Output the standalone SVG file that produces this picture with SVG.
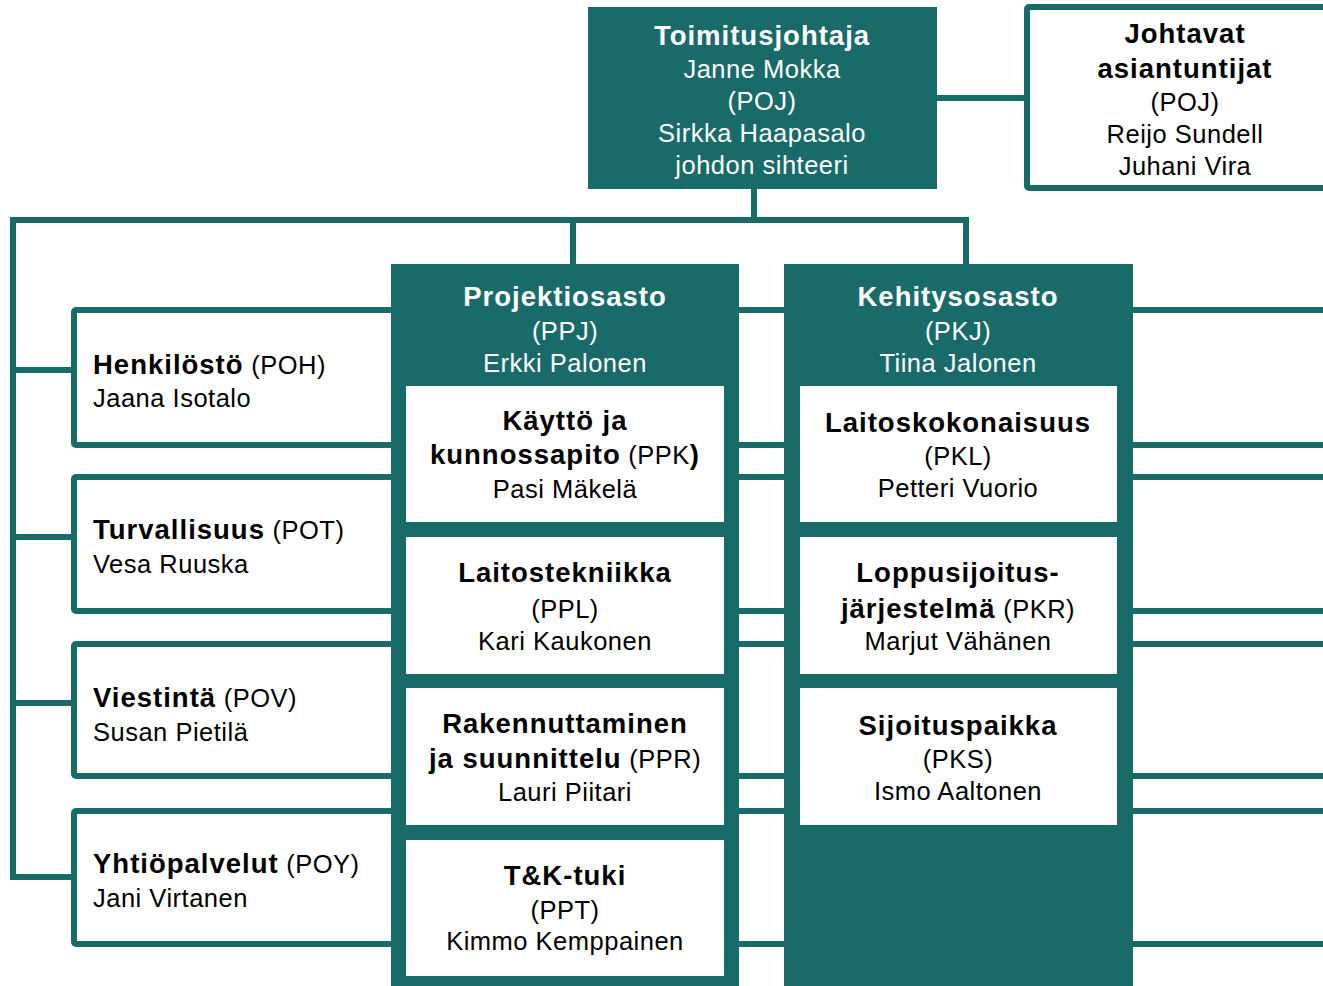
<svg xmlns="http://www.w3.org/2000/svg" width="1323" height="986" viewBox="0 0 1323 986">
<style>
.t{font-family:"Liberation Sans",Arial,sans-serif;font-size:25.5px;letter-spacing:0.5px}
.b{font-weight:bold;font-size:27.5px;letter-spacing:1px}
.w{fill:#ffffff}
.k{fill:#000000}
.m{text-anchor:middle}
.ob{fill:#ffffff;stroke:#196b6a;stroke-width:6}
.col{fill:#196b6a}
.ib{fill:#ffffff}
.c{fill:none;stroke:#196b6a;stroke-width:6;stroke-linecap:square}
</style>
<rect width="1323" height="986" fill="#ffffff"/>
<g id="connectors">
<path class="c" d="M754 189V220M13 220H966M13 220V877H72M13 370H72M13 537H72M13 703H72M573 220V264M966 220V264M937 98H1025"/>
</g>
<g id="toimitusjohtaja">
<rect x="588" y="7" width="349" height="182" class="col"/>
<text class="t w m" x="762" y="45"><tspan class="b">Toimitusjohtaja</tspan></text>
<text class="t w m" x="762" y="78">Janne Mokka</text>
<text class="t w m" x="762" y="110">(POJ)</text>
<text class="t w m" x="762" y="142">Sirkka Haapasalo</text>
<text class="t w m" x="762" y="174">johdon sihteeri</text>
</g>
<g id="johtavat">
<rect x="1027" y="7" width="320" height="181" rx="2" class="ob"/>
<text class="t k m" x="1185" y="43"><tspan class="b">Johtavat</tspan></text>
<text class="t k m" x="1185" y="78"><tspan class="b">asiantuntijat</tspan></text>
<text class="t k m" x="1185" y="111">(POJ)</text>
<text class="t k m" x="1185" y="143">Reijo Sundell</text>
<text class="t k m" x="1185" y="175">Juhani Vira</text>
</g>
<g id="henkilosto">
<rect x="74" y="310" width="1280" height="135" rx="2" class="ob"/>
<text class="t k" x="93" y="374"><tspan class="b">Henkilöstö</tspan> (POH)</text>
<text class="t k" x="93" y="407">Jaana Isotalo</text>
</g>
<g id="turvallisuus">
<rect x="74" y="477" width="1280" height="134" rx="2" class="ob"/>
<text class="t k" x="93" y="539"><tspan class="b">Turvallisuus</tspan> (POT)</text>
<text class="t k" x="93" y="573">Vesa Ruuska</text>
</g>
<g id="viestinta">
<rect x="74" y="644" width="1280" height="132" rx="2" class="ob"/>
<text class="t k" x="93" y="707"><tspan class="b">Viestintä</tspan> (POV)</text>
<text class="t k" x="93" y="741">Susan Pietilä</text>
</g>
<g id="yhtiopalvelut">
<rect x="74" y="811" width="1280" height="133" rx="2" class="ob"/>
<text class="t k" x="93" y="873"><tspan class="b">Yhtiöpalvelut</tspan> (POY)</text>
<text class="t k" x="93" y="907">Jani Virtanen</text>
</g>
<g id="projektiosasto">
<rect x="391" y="264" width="348" height="722" class="col"/>
<text class="t w m" x="565" y="306"><tspan class="b">Projektiosasto</tspan></text>
<text class="t w m" x="565" y="340">(PPJ)</text>
<text class="t w m" x="565" y="372">Erkki Palonen</text>
</g>
<g id="kaytto">
<rect x="406" y="386" width="318" height="136" class="ib"/>
<text class="t k m" x="565" y="430"><tspan class="b">Käyttö ja</tspan></text>
<text class="t k m" x="565" y="464"><tspan class="b">kunnossapito</tspan> (PPK<tspan class="b">)</tspan></text>
<text class="t k m" x="565" y="498">Pasi Mäkelä</text>
</g>
<g id="laitostekniikka">
<rect x="406" y="537" width="318" height="137" class="ib"/>
<text class="t k m" x="565" y="582"><tspan class="b">Laitostekniikka</tspan></text>
<text class="t k m" x="565" y="618">(PPL)</text>
<text class="t k m" x="565" y="650">Kari Kaukonen</text>
</g>
<g id="rakennuttaminen">
<rect x="406" y="688" width="318" height="137" class="ib"/>
<text class="t k m" x="565" y="733"><tspan class="b">Rakennuttaminen</tspan></text>
<text class="t k m" x="565" y="768"><tspan class="b">ja suunnittelu</tspan> (PPR)</text>
<text class="t k m" x="565" y="801">Lauri Piitari</text>
</g>
<g id="tktuki">
<rect x="406" y="840" width="318" height="136" class="ib"/>
<text class="t k m" x="565" y="885"><tspan class="b">T&amp;K-tuki</tspan></text>
<text class="t k m" x="565" y="919">(PPT)</text>
<text class="t k m" x="565" y="950">Kimmo Kemppainen</text>
</g>
<g id="kehitysosasto">
<rect x="784" y="264" width="349" height="722" class="col"/>
<text class="t w m" x="958" y="306"><tspan class="b">Kehitysosasto</tspan></text>
<text class="t w m" x="958" y="340">(PKJ)</text>
<text class="t w m" x="958" y="372">Tiina Jalonen</text>
</g>
<g id="laitoskokonaisuus">
<rect x="800" y="386" width="317" height="136" class="ib"/>
<text class="t k m" x="958" y="432"><tspan class="b">Laitoskokonaisuus</tspan></text>
<text class="t k m" x="958" y="465">(PKL)</text>
<text class="t k m" x="958" y="497">Petteri Vuorio</text>
</g>
<g id="loppusijoitus">
<rect x="800" y="537" width="317" height="137" class="ib"/>
<text class="t k m" x="958" y="582"><tspan class="b">Loppusijoitus-</tspan></text>
<text class="t k m" x="958" y="618"><tspan class="b">järjestelmä</tspan> (PKR)</text>
<text class="t k m" x="958" y="650">Marjut Vähänen</text>
</g>
<g id="sijoituspaikka">
<rect x="800" y="688" width="317" height="137" class="ib"/>
<text class="t k m" x="958" y="735"><tspan class="b">Sijoituspaikka</tspan></text>
<text class="t k m" x="958" y="768">(PKS)</text>
<text class="t k m" x="958" y="800">Ismo Aaltonen</text>
</g>
</svg>
